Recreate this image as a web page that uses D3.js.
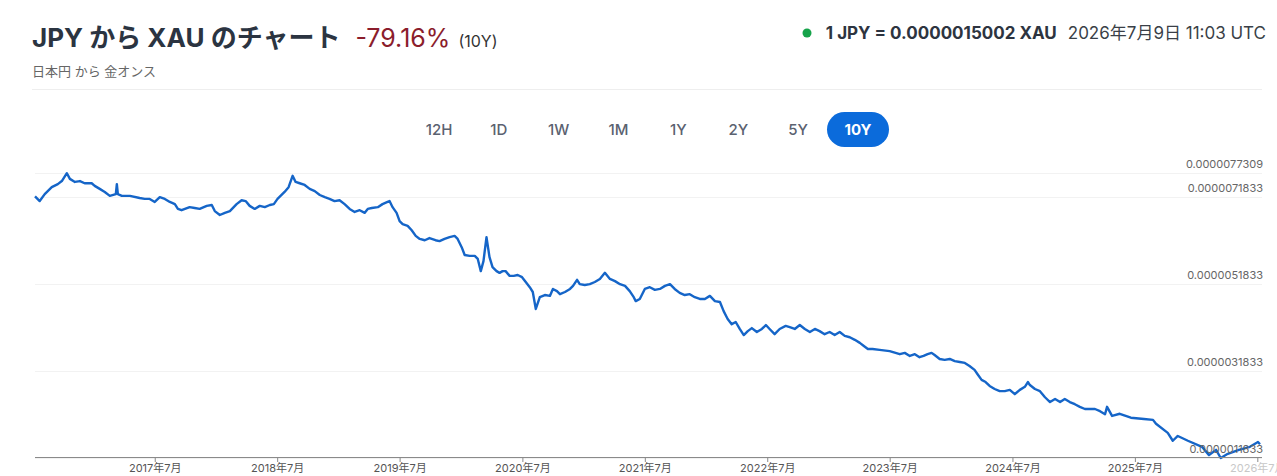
<!DOCTYPE html>
<html>
<head>
<meta charset="utf-8">
<script src="https://cdn.jsdelivr.net/npm/d3@7"></script>
<style>
  body { margin: 0; background: #fff; font-family: Inter, "Noto Sans CJK JP", sans-serif; }
</style>
</head>
<body>
<svg></svg>
<script>
// JPY -> XAU, values in units of 1e-6 XAU
const dates = [
  "2016-07-09","2016-07-23","2016-08-07","2016-08-28","2016-09-15","2016-09-27","2016-10-12","2016-10-21","2016-11-05","2016-11-20",
  "2016-12-04","2016-12-25","2017-01-03","2017-01-18","2017-02-02","2017-02-17","2017-03-07","2017-03-10","2017-03-13","2017-03-25",
  "2017-04-18","2017-05-17","2017-06-01","2017-06-16","2017-07-01","2017-07-16","2017-07-31","2017-08-15","2017-08-30","2017-09-08",
  "2017-09-19","2017-10-13","2017-10-28","2017-11-12","2017-12-03","2017-12-18","2017-12-27","2018-01-11","2018-01-26","2018-02-10",
  "2018-03-02","2018-03-17","2018-03-29","2018-04-10","2018-04-25","2018-05-10","2018-05-25","2018-06-09","2018-06-21","2018-07-02",
  "2018-07-23","2018-08-04","2018-08-16","2018-08-25","2018-09-06","2018-09-21","2018-10-06","2018-10-21","2018-11-05","2018-11-20",
  "2018-12-04","2018-12-19","2019-01-03","2019-01-18","2019-02-02","2019-02-17","2019-03-04","2019-03-19","2019-03-28","2019-04-09",
  "2019-04-27","2019-05-11","2019-05-26","2019-06-01","2019-06-10","2019-06-22","2019-07-01","2019-07-10","2019-07-25","2019-08-06",
  "2019-08-18","2019-08-30","2019-09-14","2019-09-28","2019-10-16","2019-10-28","2019-11-12","2019-11-27","2019-12-12","2019-12-21",
  "2020-01-02","2020-01-11","2020-01-26","2020-02-10","2020-02-19","2020-02-28","2020-03-07","2020-03-16","2020-03-25","2020-04-03",
  "2020-04-15","2020-04-24","2020-05-03","2020-05-12","2020-05-24","2020-06-05","2020-06-17","2020-06-30","2020-07-11","2020-07-23",
  "2020-08-01","2020-08-10","2020-08-22","2020-09-06","2020-09-21","2020-09-30","2020-10-12","2020-10-21","2020-11-05","2020-11-20",
  "2020-11-29","2020-12-11","2020-12-19","2021-01-03","2021-01-18","2021-02-02","2021-02-17","2021-03-04","2021-03-19","2021-04-03",
  "2021-04-18","2021-05-03","2021-05-17","2021-05-29","2021-06-04","2021-06-16","2021-07-01","2021-07-16","2021-07-31","2021-08-15",
  "2021-08-30","2021-09-14","2021-09-28","2021-10-13","2021-10-28","2021-11-12","2021-11-27","2021-12-12","2021-12-27","2022-01-11",
  "2022-01-26","2022-02-10","2022-02-21","2022-03-05","2022-03-17","2022-03-29","2022-04-10","2022-04-22","2022-05-04","2022-05-16",
  "2022-05-31","2022-06-15","2022-06-27","2022-07-08","2022-07-23","2022-08-07","2022-08-25","2022-09-06","2022-09-21","2022-10-06",
  "2022-10-21","2022-11-05","2022-11-20","2022-12-04","2022-12-19","2023-01-03","2023-01-18","2023-02-02","2023-02-17","2023-03-04",
  "2023-03-19","2023-04-03","2023-04-15","2023-04-27","2023-05-11","2023-06-01","2023-07-01","2023-07-31","2023-08-15","2023-08-30",
  "2023-09-14","2023-09-28","2023-10-10","2023-10-22","2023-11-03","2023-11-12","2023-11-27","2023-12-12","2023-12-27","2024-01-11",
  "2024-01-26","2024-02-10","2024-02-24","2024-03-10","2024-03-19","2024-03-31","2024-04-12","2024-04-24","2024-05-09","2024-05-24",
  "2024-06-08","2024-06-23","2024-07-08","2024-07-23","2024-08-07","2024-08-16","2024-08-22","2024-09-06","2024-09-21","2024-10-06",
  "2024-10-21","2024-11-05","2024-11-20","2024-12-04","2024-12-19","2025-01-03","2025-01-18","2025-02-02","2025-02-17","2025-03-04",
  "2025-03-19","2025-04-03","2025-04-09","2025-04-24","2025-05-17","2025-06-19","2025-07-28","2025-08-24","2025-09-02","2025-10-07",
  "2025-10-22","2025-11-06","2025-12-06","2026-01-17","2026-02-07","2026-02-28","2026-03-14","2026-04-04","2026-05-07","2026-06-09",
  "2026-07-03","2026-07-09"
];
const values = [
  7.20,7.09,7.25,7.41,7.48,7.55,7.7309,7.60,7.53,7.55,
  7.50,7.50,7.44,7.37,7.30,7.21,7.25,7.48,7.25,7.21,
  7.21,7.16,7.14,7.14,7.07,7.18,7.14,7.07,7.02,6.91,
  6.88,6.95,6.93,6.91,6.98,7.00,6.86,6.77,6.82,6.86,
  7.02,7.11,7.09,6.98,6.91,6.98,6.95,7.00,7.02,7.14,
  7.30,7.41,7.67,7.53,7.50,7.46,7.37,7.32,7.23,7.18,
  7.14,7.09,7.11,7.02,6.91,6.84,6.88,6.82,6.91,6.93,
  6.95,7.02,7.07,7.09,6.95,6.82,6.63,6.56,6.52,6.42,
  6.29,6.22,6.19,6.24,6.19,6.17,6.22,6.26,6.29,6.22,
  6.03,5.85,5.83,5.83,5.76,5.48,5.71,6.26,5.80,5.57,
  5.48,5.44,5.48,5.48,5.37,5.37,5.39,5.34,5.23,5.11,
  5.00,4.61,4.88,4.93,4.91,5.07,5.02,4.95,5.00,5.07,
  5.14,5.28,5.18,5.16,5.18,5.23,5.30,5.44,5.30,5.25,
  5.18,5.14,5.02,4.88,4.79,4.84,5.07,5.11,5.05,5.07,
  5.14,5.18,5.07,4.98,4.93,4.95,4.88,4.84,4.84,4.91,
  4.79,4.77,4.56,4.38,4.26,4.31,4.15,4.01,4.10,4.17,
  4.08,4.15,4.24,4.15,4.03,4.15,4.22,4.19,4.15,4.24,
  4.15,4.08,4.15,4.10,4.03,4.08,4.01,4.08,3.99,3.96,
  3.90,3.83,3.76,3.69,3.69,3.67,3.64,3.57,3.60,3.53,
  3.57,3.50,3.53,3.57,3.60,3.55,3.46,3.44,3.46,3.41,
  3.39,3.37,3.30,3.21,3.11,2.98,2.93,2.84,2.77,2.72,
  2.72,2.75,2.65,2.75,2.82,2.93,2.86,2.77,2.72,2.58,
  2.47,2.54,2.47,2.54,2.47,2.42,2.36,2.31,2.31,2.31,
  2.26,2.19,2.36,2.15,2.20,2.11,2.08,2.06,1.97,1.76,
  1.58,1.69,1.58,1.44,1.25,1.37,1.1833,1.28,1.37,1.44,
  1.55,1.5002
];
const yTicks = [1.1833, 3.1833, 5.1833, 7.1833, 7.7309];
const xTicks = ["2017-07-01","2018-07-01","2019-07-01","2020-07-01","2021-07-01",
                "2022-07-01","2023-07-01","2024-07-01","2025-07-01","2026-07-01"];
const ranges = ["12H", "1D", "1W", "1M", "1Y", "2Y", "5Y", "10Y"];
const activeRange = "10Y";

const width = 1277;
const height = 476;
const parse = d3.timeParse("%Y-%m-%d");
const series = dates.map((d, i) => ({date: parse(d), value: values[i]}));

const svg = d3.select("svg")
              .attr("width", width)
              .attr("height", height);

// header
const title = svg.append("text")
    .attr("x", 32)
    .attr("y", 47);
title.append("tspan")
    .text("JPY から XAU のチャート")
    .style("font-size", "26px")
    .style("font-weight", 700)
    .style("fill", "#2b3441");
title.append("tspan")
    .attr("dx", 15)
    .text("-79.16%")
    .style("font-size", "25px")
    .style("fill", "#8b1d2c");
title.append("tspan")
    .attr("dx", 8)
    .text("(10Y)")
    .style("font-size", "16px")
    .style("fill", "#333");

svg.append("text")
    .attr("x", 32)
    .attr("y", 76)
    .text("日本円 から 金オンス")
    .style("font-size", "13px")
    .style("fill", "#666");

svg.append("line")
    .attr("x1", 32).attr("x2", 1262)
    .attr("y1", 89.5).attr("y2", 89.5)
    .style("stroke", "#eeeeee");

const rate = svg.append("text")
    .attr("x", 1266)
    .attr("y", 39)
    .attr("text-anchor", "end")
    .style("font-size", "17px");
rate.append("tspan")
    .text("1 JPY = 0.0000015002 XAU")
    .style("font-weight", 700)
    .style("fill", "#2d3440");
rate.append("tspan")
    .attr("dx", 11)
    .text("2026年7月9日 11:03 UTC")
    .style("fill", "#3a3f47");

svg.append("circle")
    .attr("cx", 807)
    .attr("cy", 33)
    .attr("r", 4.5)
    .style("fill", "#16a34a");

// range buttons
const bx = d3.scalePoint().domain(ranges).range([439, 858]);
svg.append("rect")
    .attr("x", bx(activeRange) - 31)
    .attr("y", 112)
    .attr("width", 62)
    .attr("height", 35)
    .attr("rx", 17.5)
    .style("fill", "#0b6bdb");
svg.selectAll(".range")
    .data(ranges)
    .enter()
    .append("text")
      .attr("class", "range")
      .attr("x", d => bx(d))
      .attr("y", 135)
      .attr("text-anchor", "middle")
      .text(d => d)
      .style("font-size", "15px")
      .style("font-weight", d => d === activeRange ? 700 : 500)
      .style("fill", d => d === activeRange ? "#fff" : "#5b6270");

// scales
const x = d3.scaleTime()
    .domain([parse("2016-07-09"), parse("2026-07-09")])
    .range([35, 1260]);
const y = d3.scaleLinear()
    .domain([1.1833, 7.7309])
    .range([458, 173.2]);

// grid
svg.append("g").selectAll("line")
    .data(yTicks)
    .enter()
    .append("line")
      .attr("x1", 35).attr("x2", 1262)
      .attr("y1", d => Math.round(y(d)) + 0.5)
      .attr("y2", d => Math.round(y(d)) + 0.5)
      .style("stroke", "#f2f2f2");

// line
const line = d3.line()
    .x(d => x(d.date))
    .y(d => y(d.value));
svg.append("path")
    .datum(series)
    .attr("d", line)
    .style("fill", "none")
    .style("stroke", "#1565c8")
    .style("stroke-width", 2.4)
    .style("stroke-linejoin", "round");

// y labels
svg.append("g").selectAll("text")
    .data(yTicks)
    .enter()
    .append("text")
      .attr("x", 1263)
      .attr("y", d => y(d) - 5)
      .attr("text-anchor", "end")
      .text(d => d3.format(".10f")(d * 1e-6))
      .style("font-size", "11px")
      .style("fill", "#666");

// x axis
const xAxis = d3.axisBottom(x)
    .tickValues(xTicks.map(parse))
    .tickFormat(d3.timeFormat("%Y年%-m月"))
    .tickSize(5)
    .tickSizeOuter(0);
const gx = svg.append("g")
    .attr("transform", "translate(0,457)")
    .call(xAxis);
gx.select(".domain").style("stroke", "#8a8a8a").attr("d", "M35,0.5H1262");
gx.selectAll(".tick line").style("stroke", "#8a8a8a");
gx.selectAll(".tick text")
    .attr("y", 7)
    .attr("dy", "0.71em")
    .style("font-size", "11px")
    .style("font-family", "Inter, 'Noto Sans CJK JP', sans-serif")
    .style("fill", "#555");
gx.selectAll(".tick").filter((d, i) => i === xTicks.length - 1)
    .select("text").style("fill", "#c8c8c8");
</script>
</body>
</html>
